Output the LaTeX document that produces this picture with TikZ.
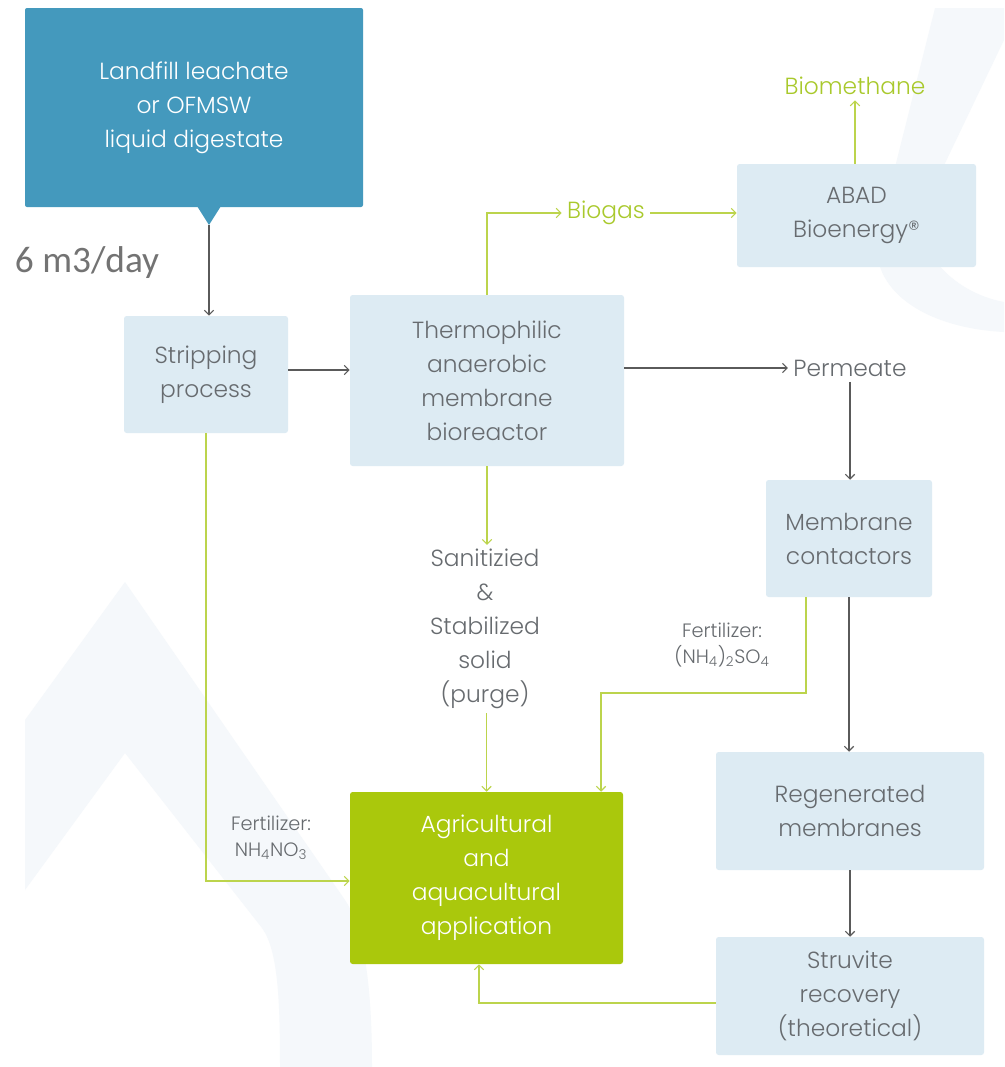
\documentclass[tikz,border=0pt]{standalone}
\usepackage{fontspec}
\usepackage{xcolor}
\usetikzlibrary{arrows.meta}
\setmainfont{Poppins}[UprightFont=* Light]
\newfontfamily\abadFlowFont{Carlito}
\definecolor{abadBoxBlue}{HTML}{DDEBF3}
\definecolor{abadTeal}{HTML}{4499BD}
\definecolor{abadGreen}{HTML}{AAC80C}
\definecolor{abadLineGreen}{HTML}{BCD44C}
\definecolor{abadTextGreen}{HTML}{A9C92C}
\definecolor{abadLineGray}{HTML}{5A5A5A}
\definecolor{abadTextGray}{HTML}{676B6F}
\definecolor{abadShade}{HTML}{F5F8FB}
\newcommand{\abadPx}[1]{#1*0.75pt}
\newcommand{\abadMain}{\fontsize{17.5}{25.5}\selectfont}
\newcommand{\abadSmall}{\fontsize{14.5}{19}\selectfont}
\tikzset{
  abadBox/.style={fill=abadBoxBlue, rounded corners=2pt, align=center, text=abadTextGray, font=\abadMain, inner sep=0pt},
  abadLabel/.style={align=center, text=abadTextGray, font=\abadMain, inner sep=4pt},
  abadFert/.style={align=center, text=abadTextGray, font=\abadSmall, inner sep=0pt},
  abadGrayArrow/.style={draw=abadLineGray, line width=0.8pt, -{Straight Barb[length=3.5pt,width=7pt]}},
  abadGreenArrow/.style={draw=abadLineGreen, line width=0.8pt, -{Straight Barb[length=3.5pt,width=7pt]}}
}
\begin{document}
\begin{tikzpicture}[x=0.75pt,y=-0.75pt]
\useasboundingbox (0,0) rectangle (1004,1067);
\fill[white] (0,0) rectangle (1004,1067);
\fill[abadShade] (25,720) -- (125,582) -- (345,900) .. controls (365,930) and (372,990) .. (372,1067) -- (280,1067) .. controls (280,1000) and (278,950) .. (262,928) -- (125,753) -- (25,890) -- cycle;
\fill[abadShade] (935,8) -- (1004,8) -- (1004,40) -- (925,205) .. controls (910,245) and (950,292) .. (1004,302) -- (1004,332) .. controls (925,328) and (868,290) .. (878,235) -- cycle;
\node[fill=abadTeal, rounded corners=1.5pt, minimum width=\abadPx{338}, minimum height=\abadPx{199}, inner sep=0pt, align=center, text=white, font=\abadMain] (src) at (194,107.5) {Landfill leachate\\or OFMSW\\liquid digestate};
\fill[abadTeal] (197,206) -- (221,206) -- (209,225) -- cycle;
\coordinate (srcTip) at (209,225);
\node[text=abadLineGray!85, font=\abadFlowFont\fontsize{28}{32}\selectfont, inner sep=0pt] (flow) at (87,263) {6 m3/day};
\node[abadBox, minimum width=\abadPx{164}, minimum height=\abadPx{117}] (strip) at (206,374.5) {Stripping\\process};
\node[abadBox, minimum width=\abadPx{274}, minimum height=\abadPx{171}] (thermo) at (487,380.5) {Thermophilic\\anaerobic\\membrane\\bioreactor};
\node[abadBox, minimum width=\abadPx{239}, minimum height=\abadPx{103}] (abad) at (856.5,215.5) {ABAD\\Bioenergy®};
\node[abadLabel, text=abadTextGreen] (biogas) at (606,213) {Biogas};
\node[abadLabel, text=abadTextGreen] (biometh) at (855,86) {Biomethane};
\node[abadLabel] (perm) at (850,368) {Permeate};
\node[abadBox, minimum width=\abadPx{166}, minimum height=\abadPx{117}] (memb) at (849,538.5) {Membrane\\contactors};
\node[abadBox, minimum width=\abadPx{268}, minimum height=\abadPx{118}] (regen) at (850,811) {Regenerated\\membranes};
\node[abadBox, minimum width=\abadPx{268}, minimum height=\abadPx{118}] (struv) at (850,996) {Struvite\\recovery\\(theoretical)};
\node[abadLabel, inner sep=3pt] (purge) at (485,629) {Sanitizied\\\&\\Stabilized\\solid\\(purge)};
\node[fill=abadGreen, rounded corners=2pt, minimum width=\abadPx{273}, minimum height=\abadPx{172}, inner sep=0pt, align=center, text=white, font=\abadMain] (agri) at (486.5,878) {Agricultural\\and\\aquacultural\\application};
\node[abadFert] (fertA) at (271,838) {Fertilizer:\\NH\textsubscript{4}NO\textsubscript{3}};
\node[abadFert] (fertB) at (722,645) {Fertilizer:\\(NH\textsubscript{4})\textsubscript{2}SO\textsubscript{4}};
\coordinate (membKnee) at (806,693);
\draw[abadGrayArrow] (srcTip) -- (srcTip |- strip.north);
\draw[abadGrayArrow] (strip.east |- 0,370) -- (thermo.west |- 0,370);
\draw[abadGrayArrow] (thermo.east |- perm.west) -- (perm.west);
\draw[abadGrayArrow] (perm.south) -- (perm.south |- memb.north);
\draw[abadGrayArrow] (memb.south) -- (memb.south |- regen.north);
\draw[abadGrayArrow] (regen.south) -- (struv.north);
\draw[abadGreenArrow] (thermo.north) |- (biogas.west);
\draw[abadGreenArrow] (biogas.east) -- (biogas.east -| abad.west);
\draw[abadGreenArrow] (biometh.south |- abad.north) -- (biometh.south);
\draw[abadGreenArrow] (thermo.south) -- (thermo.south |- purge.north);
\draw[abadGreenArrow] (agri.north |- purge.south) -- (agri.north);
\draw[abadGreenArrow] (membKnee |- memb.south) -- (membKnee) -| ([xshift=\abadPx{114.5}]agri.north);
\draw[abadGreenArrow] (strip.south) |- ([yshift=-\abadPx{3}]agri.west);
\draw[abadGreenArrow] (struv.west |- 0,1003) -| ([xshift=-\abadPx{7.5}]agri.south);
\end{tikzpicture}
\end{document}
